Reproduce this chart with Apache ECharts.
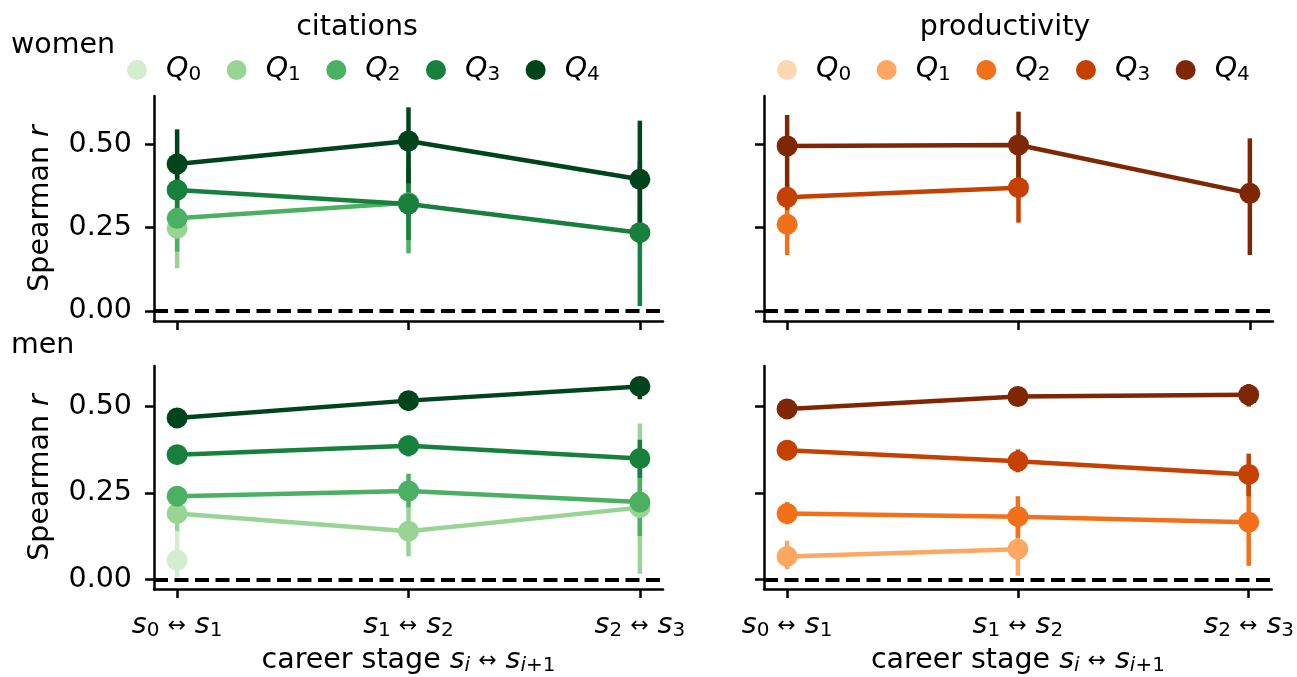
<!DOCTYPE html>
<html><head><meta charset="utf-8">
<script src="https://cdn.jsdelivr.net/npm/echarts@6/dist/echarts.min.js"></script>
<style>html,body{margin:0;padding:0;background:#fff}#c{width:1297px;height:677px}</style>
</head><body><div id="c"></div>
<script>
// ---------------- data ----------------
const stages = [0, 1, 2];
const stageSubs = [['0', '1'], ['1', '2'], ['2', '3']];
const quantiles = ['0', '1', '2', '3', '4'];
const yTicks = [0, 0.25, 0.5];
const greens = ['#d3eecd', '#98d594', '#4bb062', '#16803c', '#00441b'];
const oranges = ['#fdd7b0', '#fda762', '#f3701b', '#c54102', '#7f2704'];

// women – citations (rows: Q0..Q4, cols: stages)
const womenCitR  = [[null,null,null],[0.248,null,null],[0.278,0.325,null],[0.363,0.321,0.235],[0.441,0.510,0.395]];
const womenCitLo = [[null,null,null],[0.128,null,null],[0.178,0.173,null],[0.300,0.213,0.015],[0.340,0.383,0.203]];
const womenCitHi = [[null,null,null],[0.370,null,null],[0.380,0.470,null],[0.430,0.430,0.450],[0.545,0.611,0.571]];

// women – productivity
const womenProR  = [[null,null,null],[null,null,null],[0.260,null,null],[0.341,0.370,null],[0.495,0.498,0.353]];
const womenProLo = [[null,null,null],[null,null,null],[0.168,null,null],[0.303,0.265,null],[0.373,0.393,0.168]];
const womenProHi = [[null,null,null],[null,null,null],[0.350,null,null],[0.380,0.470,null],[0.588,0.598,0.518]];

// men – citations
const menCitR  = [[0.056,null,null],[0.191,0.140,0.208],[0.241,0.256,0.224],[0.361,0.387,0.350],[0.467,0.517,0.558]];
const menCitLo = [[0.006,null,null],[0.140,0.067,0.017],[0.212,0.208,0.126],[0.350,0.356,0.294],[0.455,0.505,0.521]];
const menCitHi = [[0.140,null,null],[0.240,0.208,0.451],[0.270,0.306,0.330],[0.372,0.416,0.404],[0.478,0.530,0.583]];

// men – productivity
const menProR  = [[null,null,null],[0.067,0.088,null],[0.191,0.182,0.166],[0.374,0.342,0.304],[0.493,0.529,0.534]];
const menProLo = [[null,null,null],[0.030,0.011,null],[0.160,0.121,0.040],[0.362,0.310,0.241],[0.480,0.515,0.500]];
const menProHi = [[null,null,null],[0.112,0.160,null],[0.224,0.241,0.290],[0.385,0.376,0.364],[0.505,0.540,0.565]];

// ---------------- layout ----------------
const FONT = 'DejaVu Sans';
const FS = 28.5, FSS = 20;
const panels = [
  {r: womenCitR, lo: womenCitLo, hi: womenCitHi, colors: greens,  key: 'c', grid: {left: 154, top: 96,  width: 509, height: 225}, ymin: -0.030, ymax: 0.645, leftCol: true,  bottomRow: false},
  {r: womenProR, lo: womenProLo, hi: womenProHi, colors: oranges, key: 'p', grid: {left: 764, top: 96,  width: 509, height: 225}, ymin: -0.030, ymax: 0.645, leftCol: false, bottomRow: false},
  {r: menCitR,   lo: menCitLo,   hi: menCitHi,   colors: greens,  key: 'c', grid: {left: 154, top: 366, width: 509, height: 224}, ymin: -0.027, ymax: 0.617, leftCol: true,  bottomRow: true},
  {r: menProR,   lo: menProLo,   hi: menProHi,   colors: oranges, key: 'p', grid: {left: 764, top: 366, width: 509, height: 224}, ymin: -0.027, ymax: 0.617, leftCol: false, bottomRow: true}
];

const axisLineStyle = {color: '#000', width: 2.5};
const subRich = {
  i:   {fontFamily: FONT, fontStyle: 'italic', fontSize: FS, lineHeight: 30, color: '#000'},
  sd:  {fontFamily: FONT, fontSize: FSS, lineHeight: 18, verticalAlign: 'bottom', color: '#000'},
  si:  {fontFamily: FONT, fontStyle: 'italic', fontSize: FSS, lineHeight: 18, verticalAlign: 'bottom', color: '#000'},
  ar:  {fontFamily: FONT, fontSize: 22, lineHeight: 30, color: '#000', padding: [0, 9, 0, 8]},
  t:   {fontFamily: FONT, fontSize: FS, lineHeight: 30, color: '#000'}
};

const grids = [], xAxes = [], yAxes = [], series = [];
panels.forEach((p, k) => {
  grids.push(Object.assign({containLabel: false}, p.grid));
  xAxes.push({
    type: 'value', gridIndex: k, min: -0.1, max: 2.1,
    axisLine: {show: true, onZero: false, lineStyle: axisLineStyle},
    axisTick: {show: true, customValues: stages, length: 9, lineStyle: axisLineStyle},
    axisLabel: {show: p.bottomRow, customValues: stages, margin: 22,
      formatter: v => {
        const s = stageSubs[Math.round(v)];
        return '{i|s}{sd|' + s[0] + '}{ar|\u2194}{i|s}{sd|' + s[1] + '}';
      }, rich: subRich},
    splitLine: {show: false},
    name: p.bottomRow ? '{t|career stage }{i|s}{si|i}{ar|\u2194}{i|s}{si|i}{sd|+1}' : '',
    nameLocation: 'middle', nameGap: 57,
    nameTextStyle: {rich: subRich}
  });
  yAxes.push({
    type: 'value', gridIndex: k, min: p.ymin, max: p.ymax,
    axisLine: {show: true, onZero: false, lineStyle: axisLineStyle},
    axisTick: {show: true, customValues: yTicks, length: 9, lineStyle: axisLineStyle},
    axisLabel: {show: p.leftCol, customValues: yTicks, margin: 22, fontSize: FS, fontFamily: FONT, color: '#000',
      padding: [10, 0, 0, 0], formatter: v => v.toFixed(2)},
    splitLine: {show: false},
    name: p.leftCol ? '{t|Spearman }{ri|r}' : '',
    nameLocation: 'middle', nameRotate: 90, nameGap: 98,
    nameTextStyle: {rich: {
      t: {fontFamily: FONT, fontSize: FS, lineHeight: 30, color: '#000'},
      ri: {fontFamily: FONT, fontStyle: 'italic', fontSize: FS, lineHeight: 30, color: '#000'}
    }}
  });
});

// error bars first, then lines, then points
panels.forEach((p, k) => {
  quantiles.forEach((q, qi) => {
    const d = [];
    stages.forEach((x, xi) => { if (p.r[qi][xi] !== null) d.push([x, p.lo[qi][xi], p.hi[qi][xi]]); });
    series.push({
      type: 'custom', name: p.key + q + '-err', xAxisIndex: k, yAxisIndex: k, z: 2,
      data: d, encode: {x: 0, y: [1, 2]}, silent: true,
      renderItem: (params, api) => {
        const a = api.coord([api.value(0), api.value(1)]);
        const b = api.coord([api.value(0), api.value(2)]);
        return {type: 'line', shape: {x1: a[0], y1: a[1], x2: b[0], y2: b[1]},
                style: {stroke: p.colors[qi], lineWidth: 4.5}};
      }
    });
  });
});
panels.forEach((p, k) => {
  quantiles.forEach((q, qi) => {
    const d = [];
    stages.forEach((x, xi) => { if (p.r[qi][xi] !== null) d.push([x, p.r[qi][xi]]); });
    const s = {
      type: 'line', name: p.key + q + '-line', xAxisIndex: k, yAxisIndex: k, z: 3,
      data: d, showSymbol: false, silent: true,
      lineStyle: {color: p.colors[qi], width: 4.5}, itemStyle: {color: p.colors[qi]}
    };
    if (qi === 4) {
      s.markLine = {silent: true, symbol: ['none', 'none'], label: {show: false},
        lineStyle: {color: '#000', width: 4, type: [14, 6.5]},
        emphasis: {disabled: true},
        data: [{yAxis: 0}]};
    }
    series.push(s);
  });
});
panels.forEach((p, k) => {
  quantiles.forEach((q, qi) => {
    const d = [];
    stages.forEach((x, xi) => { if (p.r[qi][xi] !== null) d.push([x, p.r[qi][xi]]); });
    series.push({
      type: 'scatter', name: p.key + q, xAxisIndex: k, yAxisIndex: k, z: 4,
      data: d, symbol: 'circle', symbolSize: 21, silent: true,
      itemStyle: {color: p.colors[qi], opacity: 1}
    });
  });
});

const legendText = {
  padding: [0, 0, 0, 14],
  rich: {
    q: {fontFamily: FONT, fontStyle: 'italic', fontSize: FS, lineHeight: 30, color: '#000'},
    s: {fontFamily: FONT, fontSize: FSS, lineHeight: 18, verticalAlign: 'bottom', color: '#000'}
  }
};
const legendFmt = name => '{q|Q}{s|' + name.slice(1) + '}';

const option = {
  animation: false,
  backgroundColor: '#fff',
  textStyle: {fontFamily: FONT},
  grid: grids, xAxis: xAxes, yAxis: yAxes, series: series,
  legend: [
    {data: quantiles.map(q => 'c' + q), left: 127, top: 55.5, orient: 'horizontal', padding: 0,
     icon: 'circle', itemWidth: 20, itemHeight: 20, itemGap: 25.5, selectedMode: false,
     formatter: legendFmt, textStyle: legendText},
    {data: quantiles.map(q => 'p' + q), left: 777, top: 55.5, orient: 'horizontal', padding: 0,
     icon: 'circle', itemWidth: 20, itemHeight: 20, itemGap: 25.5, selectedMode: false,
     formatter: legendFmt, textStyle: legendText}
  ],
  graphic: [
    {type: 'text', left: 11, top: 45.5 - 15, style: {text: 'women', font: FS + 'px "DejaVu Sans"', fill: '#000', lineHeight: 30}},
    {type: 'text', left: 11, top: 346 - 15, style: {text: 'men', font: FS + 'px "DejaVu Sans"', fill: '#000', lineHeight: 30}},
    {type: 'text', x: 357, y: 27.5, style: {text: 'citations', font: FS + 'px "DejaVu Sans"', fill: '#000', align: 'center', verticalAlign: 'middle'}},
    {type: 'text', x: 1005, y: 27.5, style: {text: 'productivity', font: FS + 'px "DejaVu Sans"', fill: '#000', align: 'center', verticalAlign: 'middle'}}
  ]
};
const chart = echarts.init(document.getElementById('c'), null, {renderer: 'canvas'});
chart.setOption(option);
</script>
</body></html>
